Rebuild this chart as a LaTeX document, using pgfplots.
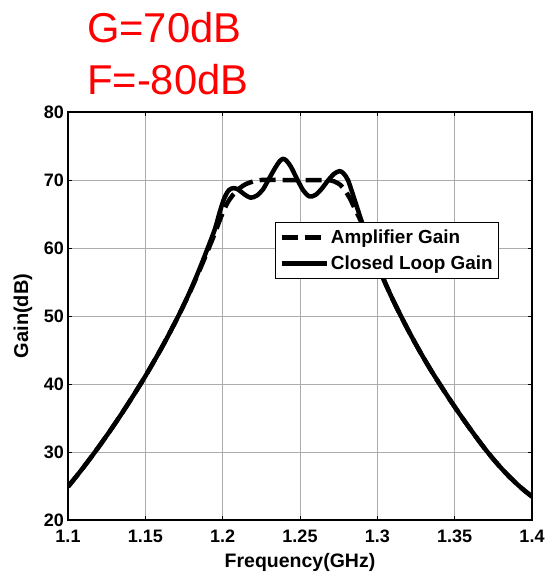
\documentclass[border=0pt]{standalone}
\usepackage{pgfplots}
\pgfplotsset{compat=1.18}
\usepackage{fontspec}
\setmainfont{Liberation Sans}
\begin{document}
\begin{tikzpicture}
\useasboundingbox (-68pt,-53pt) rectangle (479pt,520pt);
\begin{axis}[
  at={(0,0)}, anchor=south west,
  scale only axis, width=464pt, height=408pt,
  xmin=1.1, xmax=1.4, ymin=20, ymax=80,
  xtick={1.1,1.15,1.2,1.25,1.3,1.35,1.4},
  xticklabels={1.1,1.15,1.2,1.25,1.3,1.35,1.4},
  ytick={20,30,40,50,60,70,80},
  /pgf/number format/assume math mode=true,
  tick align=inside, major tick length=4pt,
  grid=major, grid style={gray!65, line width=0.6pt},
  axis line style={line width=1.2pt},
  tick style={line width=0.6pt, black},
  xticklabel style={font=\fontsize{18}{18}\selectfont\bfseries, inner sep=1pt, yshift=-9pt},
  yticklabel style={font=\fontsize{18}{18}\selectfont\bfseries, inner sep=1pt, xshift=-3pt},
  xlabel={Frequency(GHz)},
  ylabel={Gain(dB)},
  xlabel style={font=\fontsize{19.5}{20}\selectfont\bfseries, at={(axis description cs:0.5,0)}, anchor=base, yshift=-47pt},
  ylabel style={font=\fontsize{20}{20}\selectfont\bfseries, at={(axis description cs:-0.097,0.5)}, anchor=center},
  legend style={at={(0.446,0.730)}, anchor=north west, draw=black, line width=1pt,
    font=\fontsize{18.9}{19}\selectfont\bfseries, inner xsep=4pt, inner ysep=5pt, row sep=7pt,
    cells={anchor=west}},
  legend image code/.code={\draw[#1] (0pt,0pt) -- (45pt,0pt);},
]
\addplot[black, line width=4.5pt, dash pattern=on 16pt off 7pt, smooth] coordinates {
(1.100,24.9) (1.105,26.3) (1.110,27.75) (1.115,29.25) (1.120,30.8) (1.125,32.4)
(1.130,34.05) (1.135,35.75) (1.140,37.5) (1.145,39.3) (1.150,41.15) (1.155,43.1)
(1.160,45.1) (1.165,47.2) (1.170,49.4) (1.175,51.7) (1.180,54.1) (1.185,56.7)
(1.190,59.4) (1.195,62.2) (1.199,64.6)
(1.203,66.6) (1.207,67.9) (1.211,68.8) (1.215,69.4) (1.220,69.8) (1.225,70.0)
(1.235,70.0) (1.245,70.0) (1.255,70.0) (1.265,70.0) (1.268,70.0) (1.272,69.8)
(1.276,69.3) (1.279,68.5) (1.282,67.4) (1.285,66.0) (1.288,64.6) (1.291,63.1)
(1.295,60.6) (1.300,57.6) (1.305,54.9) (1.310,52.4) (1.315,50.1) (1.320,47.9)
(1.325,45.8) (1.330,43.8) (1.335,41.9) (1.340,40.1) (1.345,38.35) (1.350,36.65)
(1.355,35.0) (1.360,33.4) (1.365,31.85) (1.370,30.35) (1.375,28.95) (1.380,27.65)
(1.385,26.45) (1.390,25.35) (1.395,24.35) (1.400,23.45)
};
\addlegendentry{Amplifier Gain}
\addplot[black, line width=4.5pt, smooth] coordinates {
(1.100,24.9) (1.105,26.3) (1.110,27.75) (1.115,29.25) (1.120,30.8) (1.125,32.4)
(1.130,34.05) (1.135,35.75) (1.140,37.5) (1.145,39.3) (1.150,41.15) (1.155,43.1)
(1.160,45.1) (1.165,47.2) (1.170,49.4) (1.175,51.7) (1.180,54.2) (1.185,56.9)
(1.190,59.8) (1.195,62.8) (1.198,65.2)
(1.201,67.3) (1.204,68.5) (1.207,68.8) (1.210,68.6) (1.214,67.9) (1.218,67.4)
(1.222,67.7) (1.226,68.6) (1.230,70.2) (1.234,71.8) (1.237,72.8) (1.239,73.1)
(1.241,72.9) (1.244,72.0) (1.248,70.2) (1.252,68.5) (1.256,67.6) (1.260,67.8)
(1.264,68.7) (1.268,69.9) (1.272,70.9) (1.2755,71.3) (1.278,71.0) (1.281,70.0)
(1.284,68.0) (1.287,65.9) (1.290,63.8) (1.295,60.6) (1.300,57.6) (1.305,54.9)
(1.310,52.4) (1.315,50.1) (1.320,47.9) (1.325,45.8) (1.330,43.8) (1.335,41.9)
(1.340,40.1) (1.345,38.35) (1.350,36.65) (1.355,35.0) (1.360,33.4) (1.365,31.85)
(1.370,30.35) (1.375,28.95) (1.380,27.65) (1.385,26.45) (1.390,25.35) (1.395,24.35)
(1.400,23.45)
};
\addlegendentry{Closed Loop Gain}
\end{axis}
\node[anchor=base west, text=red, font=\fontsize{41.7}{42}\selectfont, inner sep=0pt] at (19pt,477pt) {G=70dB};
\node[anchor=base west, text=red, font=\fontsize{41.7}{42}\selectfont, inner sep=0pt] at (19pt,425pt) {F=-80dB};
\end{tikzpicture}
\end{document}
